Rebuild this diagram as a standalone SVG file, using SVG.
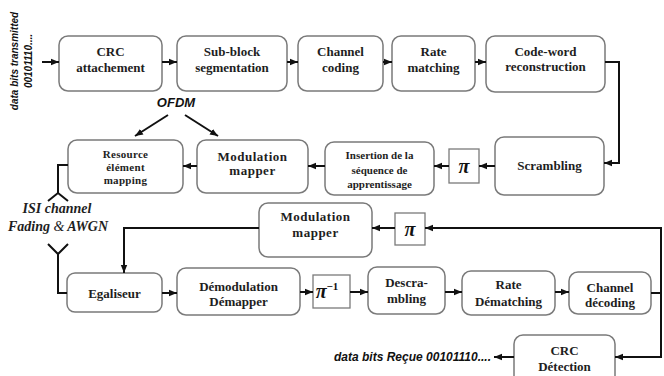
<svg xmlns="http://www.w3.org/2000/svg" width="664" height="376" viewBox="0 0 664 376">
<style>
.box{fill:#fff;stroke:#7a7a7a;stroke-width:1.5}
.pb{fill:#fff;stroke:#7a7a7a;stroke-width:1.3}
.t{font-family:"Liberation Serif",serif;font-weight:bold;font-size:13px;fill:#1e1e1e;text-anchor:middle}
.s{font-family:"Liberation Serif",serif;font-weight:bold;font-size:11px;fill:#1e1e1e;text-anchor:middle}
.pi{font-family:"Liberation Serif",serif;font-weight:bold;font-style:italic;font-size:20px;fill:#111;text-anchor:middle}
.lab{font-family:"Liberation Sans",sans-serif;font-weight:bold;font-style:italic;fill:#111}
.isi{font-family:"Liberation Serif",serif;font-weight:bold;font-style:italic;font-size:14px;fill:#1e1e1e;text-anchor:middle}
.c{fill:none;stroke:#111;stroke-width:2}
</style>
<defs>
<marker id="a" markerUnits="userSpaceOnUse" markerWidth="8" markerHeight="8" viewBox="0 0 8 8" refX="8" refY="4" orient="auto">
<path d="M0,0.8 L8,4 L0,7.2 Z" fill="#111"/>
</marker>
</defs>

<g id="input-label">
<text class="lab" font-size="10" text-anchor="middle" transform="translate(18,61) rotate(-90)">data bits transmitted</text>
<text class="lab" font-size="10" text-anchor="middle" transform="translate(32,61) rotate(-90)">00101110....</text>
</g>

<g id="crc"><rect class="box" x="59" y="36" width="103" height="55" rx="9"/><text class="t" x="110.5" y="56">CRC</text><text class="t" x="110.5" y="72">attachement</text></g>
<g id="subblock"><rect class="box" x="177" y="36" width="110" height="55" rx="9"/><text class="t" x="232" y="56">Sub-block</text><text class="t" x="232" y="72">segmentation</text></g>
<g id="chcoding"><rect class="box" x="298" y="36" width="85" height="55" rx="9"/><text class="t" x="340.5" y="56">Channel</text><text class="t" x="340.5" y="72">coding</text></g>
<g id="ratematch"><rect class="box" x="392" y="36" width="83" height="55" rx="9"/><text class="t" x="433.5" y="56">Rate</text><text class="t" x="433.5" y="72">matching</text></g>
<g id="codeword"><rect class="box" x="486" y="36" width="119" height="56" rx="9"/><text class="t" x="545.5" y="56">Code-word</text><text class="t" x="545.5" y="71">reconstruction</text></g>

<g id="scrambling"><rect class="box" x="495" y="137" width="109" height="58" rx="9"/><text class="t" x="549.5" y="170">Scrambling</text></g>
<g id="pi1"><rect class="pb" x="449" y="149" width="30" height="34"/><text class="pi" x="464" y="173">π</text></g>
<g id="insertion"><rect class="box" x="325" y="142" width="109" height="53" rx="9"/><text class="s" x="379.5" y="159">Insertion de la</text><text class="s" x="379.5" y="174">séquence de</text><text class="s" x="379.5" y="188">apprentissage</text></g>
<g id="modmapper1"><rect class="box" x="197" y="140" width="111" height="53" rx="9"/><text class="t" x="252.5" y="161" letter-spacing="0.5">Modulation</text><text class="t" x="252.5" y="175" letter-spacing="0.5">mapper</text></g>
<g id="resource"><rect class="box" x="68" y="140" width="115" height="53" rx="9"/><text class="s" x="125.5" y="158" letter-spacing="0.3">Resource</text><text class="s" x="125.5" y="171" letter-spacing="0.3">élément</text><text class="s" x="125.5" y="184" letter-spacing="0.3">mapping</text></g>

<g id="ofdm"><text class="lab" font-size="13" text-anchor="middle" x="176" y="107">OFDM</text></g>

<g id="channel-label"><text class="isi" x="57" y="213">ISI channel</text><text class="isi" x="58" y="231">Fading <tspan font-weight="normal">&amp;</tspan> AWGN</text></g>

<g id="modmapper2"><rect class="box" x="259" y="203" width="113" height="54" rx="9"/><text class="t" x="315.5" y="221" letter-spacing="0.5">Modulation</text><text class="t" x="315.5" y="237" letter-spacing="0.5">mapper</text></g>
<g id="pi2"><rect class="pb" x="395" y="213" width="30" height="32"/><text class="pi" x="410" y="236">π</text></g>

<g id="egaliseur"><rect class="box" x="67" y="273" width="95" height="39" rx="8"/><text class="t" x="114.5" y="298">Egaliseur</text></g>
<g id="demod"><rect class="box" x="177" y="268" width="123" height="47" rx="9"/><text class="t" x="238.5" y="291">Démodulation</text><text class="t" x="238.5" y="306">Démapper</text></g>
<g id="piinv"><rect class="pb" x="313" y="275" width="37" height="33"/><text class="pi" x="327" y="298">π<tspan font-size="11" font-style="normal" dy="-8">−1</tspan></text></g>
<g id="descrambling"><rect class="box" x="368" y="267" width="77" height="47" rx="9"/><text class="t" x="406.5" y="287">Descra-</text><text class="t" x="406.5" y="303">mbling</text></g>
<g id="ratedematch"><rect class="box" x="462" y="271" width="93" height="44" rx="9"/><text class="t" x="508.5" y="289">Rate</text><text class="t" x="508.5" y="306">Dématching</text></g>
<g id="chdecoding"><rect class="box" x="569" y="272" width="82" height="42" rx="9"/><text class="t" x="610" y="292">Channel</text><text class="t" x="610" y="307">décoding</text></g>
<g id="crcdet"><rect class="box" x="514" y="335" width="101" height="50" rx="9"/><text class="t" x="564.5" y="355">CRC</text><text class="t" x="564.5" y="371">Détection</text></g>

<g id="output-label"><text class="lab" font-size="12" text-anchor="end" x="491" y="361">data bits Reçue 00101110....</text></g>

<g id="connectors">
<line class="c" x1="42" y1="62" x2="59" y2="62" marker-end="url(#a)"/>
<line class="c" x1="162" y1="62" x2="177" y2="62" marker-end="url(#a)"/>
<line class="c" x1="287" y1="62" x2="298" y2="62" marker-end="url(#a)"/>
<line class="c" x1="383" y1="62" x2="392" y2="62" marker-end="url(#a)"/>
<line class="c" x1="475" y1="62" x2="486" y2="62" marker-end="url(#a)"/>
<polyline class="c" points="605,62 619,62 619,163 604,163" marker-end="url(#a)"/>
<line class="c" x1="495" y1="166" x2="479" y2="166" marker-end="url(#a)"/>
<line class="c" x1="449" y1="166" x2="434" y2="166" marker-end="url(#a)"/>
<line class="c" x1="325" y1="166" x2="308" y2="166" marker-end="url(#a)"/>
<line class="c" x1="197" y1="166" x2="183" y2="166" marker-end="url(#a)"/>
<line class="c" x1="168" y1="115" x2="135" y2="136" marker-end="url(#a)"/>
<line class="c" x1="185" y1="115" x2="218" y2="136" marker-end="url(#a)"/>
<polyline class="c" points="68,165 58,165 58,193"/>
<polyline class="c" points="48,201 58,193 68,201"/>
<polyline class="c" points="48,244 58,254 68,244"/>
<polyline class="c" points="58,254 58,293 67,293"/>
<polyline class="c" points="661,228 425,228" marker-end="url(#a)"/>
<line class="c" x1="395" y1="228" x2="372" y2="228" marker-end="url(#a)"/>
<polyline class="c" points="259,228 124,228 124,273" marker-end="url(#a)"/>
<line class="c" x1="162" y1="293" x2="177" y2="293" marker-end="url(#a)"/>
<line class="c" x1="300" y1="292" x2="313" y2="292" marker-end="url(#a)"/>
<line class="c" x1="350" y1="292" x2="368" y2="292" marker-end="url(#a)"/>
<line class="c" x1="445" y1="292" x2="462" y2="292" marker-end="url(#a)"/>
<line class="c" x1="555" y1="292" x2="569" y2="292" marker-end="url(#a)"/>
<polyline class="c" points="651,293 661,293"/>
<polyline class="c" points="661,227 661,357 615,357" marker-end="url(#a)"/>
<line class="c" x1="514" y1="357" x2="494" y2="357" marker-end="url(#a)"/>
</g>
</svg>
